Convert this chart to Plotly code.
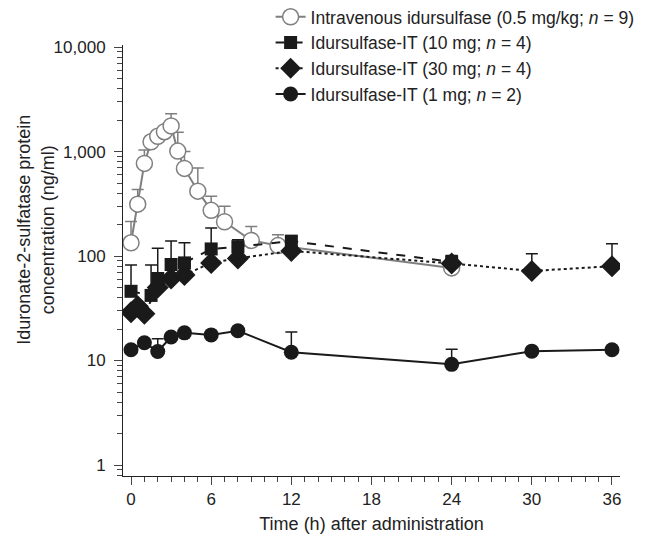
import plotly.graph_objects as go

# ---- data ----
iv_t = [0, 0.5, 1, 1.5, 2, 2.5, 3, 3.5, 4, 5, 6, 7, 9, 11, 24]
iv_v = [134, 314, 770, 1240, 1400, 1550, 1760, 1010, 690, 418, 274, 213, 141, 126, 77]
iv_e = [80, 120, 265, 0, 0, 0, 540, 520, 310, 280, 100, 86, 51, 34, 0]

mg10_t = [0, 1.5, 2, 3, 4, 6, 8, 12, 24]
mg10_v = [46, 42, 61, 83, 86, 117, 123, 139, 88]
mg10_e = [36, 40, 58, 56, 48, 69, 20, 16, 13]

mg30_t = [0, 0.5, 1, 2, 3, 4, 6, 8, 12, 24, 30, 36]
mg30_v = [29, 33, 28, 50, 61, 66, 86, 95, 112, 85, 72, 80]
mg30_e = [0, 0, 0, 0, 0, 0, 0, 0, 0, 0, 33, 51]

mg1_t = [0, 1, 2, 3, 4, 6, 8, 12, 24, 30, 36]
mg1_v = [12.7, 14.8, 12.2, 16.8, 18.4, 17.6, 19.3, 12.0, 9.2, 12.3, 12.7]
mg1_e = [0, 1.0, 4.0, 0, 0, 0, 0, 6.8, 3.6, 0, 0]

y_tickvals = [1, 10, 100, 1000, 10000]
y_ticktext = ["1", "10", "100", "1,000", "10,000"]
x_tickvals = [0, 6, 12, 18, 24, 30, 36]

GRAY = "#7f7f7f"
BLACK = "#1a1a1a"
FONT = "Liberation Sans, Arial, sans-serif"

fig = go.Figure()

def err(e, color):
    return dict(type="data", array=e, arrayminus=[0] * len(e), symmetric=False,
                color=color, thickness=1.5, width=6)

fig.add_trace(go.Scatter(
    x=iv_t, y=iv_v, mode="lines+markers",
    name="Intravenous idursulfase (0.5 mg/kg; <i>n</i> = 9)",
    line=dict(color=GRAY, width=2),
    marker=dict(symbol="circle", size=16, color="white", line=dict(color=GRAY, width=1.5)),
    error_y=err(iv_e, GRAY), legendrank=1))

fig.add_trace(go.Scatter(
    x=mg1_t, y=mg1_v, mode="lines+markers",
    name="Idursulfase-IT (1 mg; <i>n</i> = 2)",
    line=dict(color=BLACK, width=2),
    marker=dict(symbol="circle", size=15, color=BLACK),
    error_y=err(mg1_e, BLACK), legendrank=4))

fig.add_trace(go.Scatter(
    x=mg30_t, y=mg30_v, mode="lines+markers",
    name="Idursulfase-IT (30 mg; <i>n</i> = 4)",
    line=dict(color=BLACK, width=2, dash="dot"),
    marker=dict(symbol="diamond", size=17, color=BLACK),
    error_y=err(mg30_e, BLACK), legendrank=3))

fig.add_trace(go.Scatter(
    x=mg10_t, y=mg10_v, mode="lines+markers",
    name="Idursulfase-IT (10 mg; <i>n</i> = 4)",
    line=dict(color=BLACK, width=2, dash="dash"),
    marker=dict(symbol="square", size=13, color=BLACK),
    error_y=err(mg10_e, BLACK), legendrank=2))

fig.update_layout(
    width=638, height=531,
    margin=dict(l=115, r=26, t=37, b=63, autoexpand=False),
    paper_bgcolor="white", plot_bgcolor="white",
    font=dict(family=FONT, size=17, color="#222"),
    showlegend=True,
    legend=dict(x=0.297, y=1.107, xanchor="left", yanchor="top",
                bgcolor="rgba(0,0,0,0)", font=dict(family=FONT, size=17.5), tracegroupgap=0,
                itemwidth=30),
    xaxis=dict(range=[-0.6, 36.6], tickvals=x_tickvals, ticks="outside", ticklen=8,
               tickwidth=1, showline=True, linecolor="#222", linewidth=1, showgrid=False,
               zeroline=False, automargin=False,
               minor=dict(dtick=1, tick0=0, ticks="outside", ticklen=5, tickwidth=1, showgrid=False),
               title=dict(text="Time (h) after administration", standoff=8,
                          font=dict(family=FONT, size=18)),
               tickfont=dict(family=FONT, size=17)),
    yaxis=dict(type="log", range=[-0.105, 4.02], tickvals=y_tickvals, ticktext=y_ticktext,
               ticks="outside", ticklen=8, tickwidth=1, showline=True, linecolor="#222",
               linewidth=1, showgrid=False, zeroline=False, automargin=False,
               ticklabelstandoff=5,
               minor=dict(dtick="D1", ticks="outside", ticklen=5, tickwidth=1, showgrid=False),
               tickfont=dict(family=FONT, size=17)),
    annotations=[dict(text="Iduronate-2-sulfatase protein<br>concentration (ng/ml)",
                      xref="paper", yref="paper", x=-0.176, y=0.57, textangle=-90,
                      showarrow=False, font=dict(family=FONT, size=18),
                      xanchor="center", yanchor="middle")],
)

fig.write_html("out.html")
